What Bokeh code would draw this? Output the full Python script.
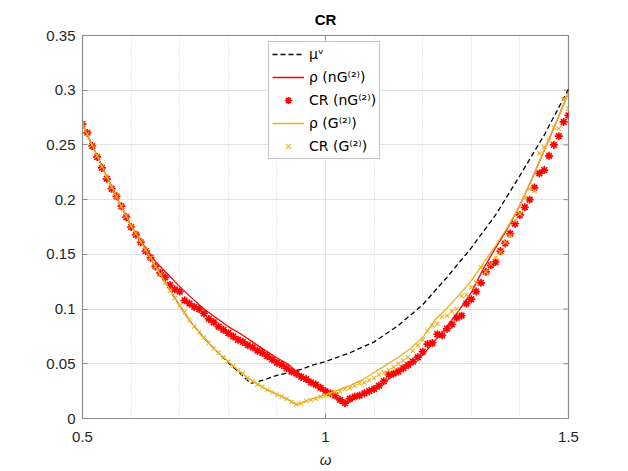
from bokeh.plotting import figure
from bokeh.models import FixedTicker, Range1d, Legend, LegendItem
from bokeh.embed import file_html
from bokeh.resources import INLINE

# ---------------- data ----------------
x_ticks = [0.5, 1.0, 1.5]
x_tick_labels = ["0.5", "1", "1.5"]
x_minor = [0.6, 0.7, 0.8, 0.9, 1.1, 1.2, 1.3, 1.4]
y_ticks = [0.0, 0.05, 0.1, 0.15, 0.2, 0.25, 0.3, 0.35]
y_tick_labels = ["0", "0.05", "0.1", "0.15", "0.2", "0.25", "0.3", "0.35"]

# mu^nu (black dashed)
mu_x = [0.50, 0.525, 0.55, 0.575, 0.60, 0.625, 0.65, 0.675, 0.70, 0.725, 0.75, 0.775, 0.80,
        0.825, 0.846, 0.875, 0.90, 0.925, 0.95, 0.975, 1.00, 1.05, 1.10, 1.15, 1.20, 1.25,
        1.30, 1.35, 1.40, 1.45, 1.50]
mu_y = [0.269, 0.245, 0.221, 0.198, 0.176, 0.158, 0.139, 0.121, 0.103, 0.087, 0.0735, 0.062, 0.051,
        0.041, 0.032, 0.0355, 0.0395, 0.042, 0.045, 0.049, 0.052, 0.060, 0.070, 0.085, 0.104, 0.129,
        0.156, 0.186, 0.222, 0.259, 0.301]

# rho (nG^(2)) red line
rn_x = [0.50, 0.525, 0.55, 0.575, 0.60, 0.625, 0.65, 0.675, 0.70, 0.725, 0.75, 0.775, 0.80, 0.825,
        0.85, 0.875, 0.90, 0.925, 0.95, 0.975, 1.00, 1.025, 1.045, 1.075, 1.10, 1.125, 1.15, 1.175,
        1.20, 1.225, 1.25, 1.275, 1.30, 1.325, 1.35, 1.375, 1.40, 1.425, 1.45, 1.475, 1.50]
rn_y = [0.269, 0.245, 0.221, 0.198, 0.176, 0.159, 0.1435, 0.132, 0.1205, 0.110, 0.100, 0.092, 0.084, 0.0774,
        0.070, 0.0625, 0.0555, 0.049, 0.039, 0.032, 0.0255, 0.018, 0.014, 0.022, 0.027, 0.034, 0.043, 0.051,
        0.058, 0.071, 0.084, 0.099, 0.115, 0.137, 0.156, 0.174, 0.195, 0.219, 0.245, 0.271, 0.298]

# rho (G^(2)) yellow line
rg_x = [0.50, 0.525, 0.55, 0.575, 0.60, 0.625, 0.65, 0.675, 0.70, 0.725, 0.75, 0.775, 0.80, 0.825,
        0.85, 0.875, 0.90, 0.925, 0.94, 0.96, 0.975, 1.00, 1.025, 1.05, 1.075, 1.10, 1.125, 1.15,
        1.175, 1.20, 1.225, 1.25, 1.275, 1.30, 1.325, 1.35, 1.375, 1.40, 1.425, 1.45, 1.475, 1.50]
rg_y = [0.269, 0.245, 0.221, 0.198, 0.176, 0.158, 0.139, 0.121, 0.103, 0.087, 0.0735, 0.062, 0.052, 0.0423,
        0.034, 0.0275, 0.022, 0.017, 0.0125, 0.016, 0.0185, 0.0215, 0.026, 0.030, 0.035, 0.042, 0.049, 0.056,
        0.064, 0.074, 0.090, 0.101, 0.113, 0.126, 0.142, 0.158, 0.175, 0.195, 0.219, 0.245, 0.271, 0.298]

# CR markers, omega = 0.50 ... 1.50 step 0.01
cr_x = [round(0.50 + 0.01 * i, 2) for i in range(101)]
cr_nG = [0.269, 0.261, 0.249, 0.239, 0.229, 0.219, 0.210, 0.203, 0.194, 0.184,
         0.175, 0.168, 0.161, 0.153, 0.147, 0.139, 0.133, 0.129, 0.122, 0.118,
         0.116, 0.108, 0.105, 0.102, 0.100, 0.096, 0.091, 0.088, 0.084, 0.081,
         0.078, 0.075, 0.072, 0.070, 0.067, 0.065, 0.062, 0.060, 0.057, 0.054,
         0.051, 0.049, 0.046, 0.043, 0.041, 0.038, 0.036, 0.033, 0.031, 0.028,
         0.025, 0.023, 0.021, 0.017, 0.014, 0.018, 0.020, 0.021, 0.023, 0.025,
         0.027, 0.030, 0.034, 0.040, 0.041, 0.043, 0.046, 0.049, 0.052, 0.056,
         0.061, 0.068, 0.069, 0.077, 0.076, 0.082, 0.086, 0.092, 0.094, 0.105,
         0.109, 0.116, 0.124, 0.134, 0.140, 0.143, 0.153, 0.160, 0.169, 0.178,
         0.186, 0.193, 0.200, 0.211, 0.224, 0.227, 0.240, 0.250, 0.258, 0.271,
         0.277]
cr_G = [0.269, 0.260, 0.250, 0.240, 0.230, 0.221, 0.211, 0.203, 0.194, 0.185,
        0.176, 0.169, 0.161, 0.154, 0.147, 0.139, 0.132, 0.124, 0.117, 0.110,
        0.103, 0.097, 0.090, 0.084, 0.079, 0.074, 0.069, 0.064, 0.060, 0.056,
        0.052, 0.048, 0.044, 0.041, 0.037, 0.034, 0.031, 0.029, 0.026, 0.024,
        0.022, 0.020, 0.018, 0.015, 0.013, 0.014, 0.016, 0.017, 0.018, 0.020,
        0.021, 0.022, 0.024, 0.025, 0.027, 0.028, 0.030, 0.032, 0.033, 0.035,
        0.037, 0.040, 0.042, 0.044, 0.047, 0.050, 0.053, 0.056, 0.062, 0.067,
        0.072, 0.080, 0.085, 0.0865, 0.093, 0.094, 0.098, 0.100, 0.112, 0.113,
        0.120, 0.124, 0.138, 0.134, 0.141, 0.147, 0.152, 0.161, 0.167, 0.181,
        0.187, 0.202, 0.210, 0.208, 0.2425, 0.248, 0.254, 0.266, 0.265, 0.292,
        0.283]

# ---------------- figure ----------------
FONT = "Liberation Sans"
LFONT = "DejaVu Sans"
TXT = "#262626"
AX = "#8c8c8c"
RED = "#FF0000"
YEL = "#EDB120"

X0, X1, Y0, Y1 = 0.5, 1.5, 0.0, 0.35
FW, FH = 486, 383      # frame size in px
TICK = 5               # inward tick length in px

p = figure(width=628, height=471, x_range=Range1d(X0, X1), y_range=Range1d(Y0, Y1),
           output_backend="svg", toolbar_location=None,
           min_border_left=82, min_border_right=60, min_border_top=35, min_border_bottom=53)
p.background_fill_color = "white"
p.border_fill_color = "white"
p.outline_line_color = AX
p.outline_line_width = 1.2

p.title.text = "CR"
p.title.align = "center"
p.title.text_font = FONT
p.title.text_font_style = "bold"
p.title.text_font_size = "15px"
p.title.text_color = "#000000"
p.title.standoff = 15

xt = FixedTicker(ticks=x_ticks, minor_ticks=x_minor)
yt = FixedTicker(ticks=y_ticks)
p.xaxis.ticker = xt
p.yaxis.ticker = yt
p.xaxis.major_label_overrides = dict(zip(x_ticks, x_tick_labels))
p.yaxis.major_label_overrides = dict(zip(y_ticks, y_tick_labels))
p.xaxis.axis_label = "ω"
p.xaxis.axis_label_text_font_style = "italic"
p.xaxis.axis_label_text_font = FONT
p.xaxis.axis_label_text_font_size = "15px"
p.xaxis.axis_label_text_color = TXT
p.xaxis.axis_label_standoff = 6

for ax in (p.xaxis[0], p.yaxis[0]):
    ax.major_label_text_font = FONT
    ax.major_label_text_font_size = "15px"
    ax.major_label_text_color = TXT
    ax.axis_line_color = AX
    ax.major_tick_line_color = AX
    ax.major_tick_in = TICK
    ax.major_tick_out = 0
    ax.minor_tick_line_color = None
p.xaxis.major_label_standoff = 9
p.yaxis.major_label_standoff = 7

p.xgrid.ticker = xt
p.ygrid.ticker = yt
p.grid.grid_line_color = "#262626"
p.grid.grid_line_alpha = 0.13
p.xgrid.minor_grid_line_color = "#262626"
p.xgrid.minor_grid_line_alpha = 0.2
p.xgrid.minor_grid_line_dash = "1 2"

# box ticks on the top and right edges (inward)
dx = TICK * (X1 - X0) / FW
dy = TICK * (Y1 - Y0) / FH
p.segment(x0=[X1] * len(y_ticks), y0=y_ticks, x1=[X1 - dx] * len(y_ticks), y1=y_ticks,
          line_color=AX, line_width=1)
p.segment(x0=x_ticks, y0=[Y1] * len(x_ticks), x1=x_ticks, y1=[Y1 - dy] * len(x_ticks),
          line_color=AX, line_width=1)

r_mu = p.line(mu_x, mu_y, line_color="black", line_width=1.3, line_dash="5 3")
r_rn = p.line(rn_x, rn_y, line_color=RED, line_width=1.3)
r_cn = p.scatter(cr_x, cr_nG, marker="asterisk", size=8, line_color=RED, line_width=1.7)
r_rg = p.line(rg_x, rg_y, line_color=YEL, line_width=1.3)
r_cg = p.scatter(cr_x, cr_G, marker="x", size=6, line_color=YEL, line_width=1.1)

legend = Legend(items=[
    LegendItem(label="μᵛ", renderers=[r_mu]),
    LegendItem(label="ρ (nG⁽²⁾)", renderers=[r_rn]),
    LegendItem(label="CR (nG⁽²⁾)", renderers=[r_cn]),
    LegendItem(label="ρ (G⁽²⁾)", renderers=[r_rg]),
    LegendItem(label="CR (G⁽²⁾)", renderers=[r_cg]),
], location=(186, 259))
legend.label_text_font = LFONT
legend.label_text_font_size = "14px"
legend.label_text_color = "#000000"
legend.glyph_width = 32
legend.glyph_height = 18
legend.label_height = 18
legend.label_standoff = 5
legend.spacing = 5
legend.padding = 3
legend.margin = 0
legend.border_line_color = AX
legend.border_line_width = 1
legend.background_fill_color = "white"
legend.background_fill_alpha = 1.0
p.add_layout(legend)

open("out.html", "w").write(file_html(p, INLINE))
